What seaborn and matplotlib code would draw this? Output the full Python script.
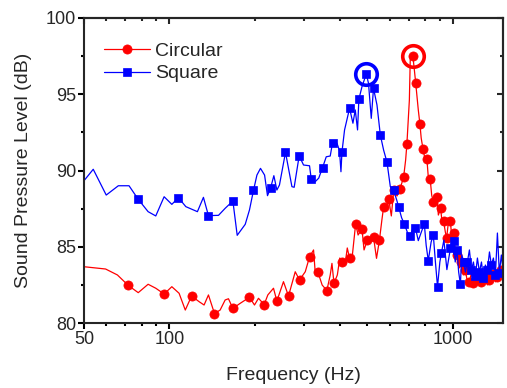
import numpy as np
import pandas as pd
import matplotlib
matplotlib.use("Agg")
import matplotlib.pyplot as plt
import seaborn as sns
from matplotlib.ticker import FixedLocator, NullFormatter, MultipleLocator

# Circular plate: frequency (Hz) and sound pressure level (dB)
circ_freq = [50, 59.6, 65.6, 71.7, 77.7, 84.2, 89.6, 95.9, 102.1, 108.3,
             113.9, 119.9, 127.4, 132.7, 137.5, 144.4, 151.2, 157.5, 161.8, 167.7,
             178.0, 191.9, 199.9, 206.5, 216.3, 222.8, 233.3, 239.8, 253.0, 263.6,
             278.4, 288.3, 302, 312.7, 323.1, 327.6, 334.8, 346.5, 360, 370,
             375.2, 381.5, 392, 400, 407, 418.5, 425, 433, 443, 455,
             464, 479, 487, 500, 512, 526, 539, 552, 563, 571,
             585, 595, 608, 620, 637, 652, 664, 672, 683, 690,
             704, 709, 724, 732, 741, 757, 767, 775, 787, 798,
             812, 820, 834, 844, 855, 868, 882, 891, 908, 920,
             930, 943, 953, 967, 983, 995, 1009, 1022, 1039, 1056,
             1073, 1092, 1110, 1128, 1147, 1166, 1185, 1204, 1224, 1244,
             1265, 1285, 1306, 1328, 1350, 1371, 1394, 1417, 1440, 1463,
             1487, 1507]
circ_spl = [83.69, 83.54, 83.15, 82.46, 81.99, 82.54, 82.28, 81.90, 82.38, 81.95,
            80.85, 81.77, 81.40, 81.18, 81.84, 80.62, 80.85, 81.51, 81.59, 80.96,
            81.29, 81.69, 81.18, 81.62, 81.21, 81.84, 82.28, 81.44, 82.71, 81.77,
            83.36, 82.82, 83.36, 84.33, 84.79, 83.28, 83.34, 82.49, 82.13, 83.15,
            83.91, 82.60, 83.15, 84.26, 83.97, 84.0, 84.92, 84.24, 84.46, 86.52,
            85.77, 86.16, 84.79, 85.42, 85.44, 85.64, 84.24, 85.44, 86.75, 87.61,
            87.41, 88.13, 87.02, 88.72, 88.33, 88.79, 89.25, 89.59, 90.69, 91.74,
            94.62, 97.25, 97.53, 96.72, 95.76, 93.97, 93.05, 92.13, 91.38, 90.82,
            90.73, 89.70, 89.41, 88.39, 87.93, 88.39, 88.23, 87.08, 87.51, 86.43,
            86.66, 85.97, 85.57, 86.62, 86.66, 85.44, 85.87, 84.92, 84.46, 83.61,
            84.0, 83.15, 83.48, 82.69, 82.7, 83.3, 82.6, 82.43, 82.9, 83.4,
            82.7, 83.1, 83.0, 82.5, 82.8, 83.4, 83.2, 82.7, 83.0, 83.6,
            83.5, 83.1]
circ_marks = [3, 7, 11, 15, 19, 21, 24, 27, 29, 31, 33, 36, 38, 41, 44, 47, 49,
              51, 53, 55, 57, 59, 61, 63, 65, 67, 69, 72, 74, 76, 78, 80, 82, 84,
              86, 88, 90, 92, 94, 96, 98, 100, 102, 104, 106, 108, 110, 112, 114,
              116, 118, 120]

# Square plate
sq_freq = [50, 53.9, 59.9, 66.1, 72.1, 77.7, 84.2, 89.6, 95.9, 102.1,
           107.7, 114.4, 125.7, 132.0, 137.5, 149.2, 157.5, 167.7, 173.7, 185.4,
           191.9, 198.3, 203.9, 209.9, 217, 222.2, 227.7, 234.0, 239.8, 244.9,
           257.2, 271.0, 276, 287.5, 297.8, 312.7, 317, 327.6, 337, 347.5,
           358.2, 370, 377, 391, 399, 403.7, 407, 415.7, 433, 445,
           453.5, 462, 467, 479, 496, 505, 516.5, 526, 541, 556,
           571, 587, 603, 619, 635, 645, 661, 676, 692, 709,
           724, 739, 757, 776, 795, 807, 821, 840, 855, 870,
           885, 902, 914, 932, 955, 983, 1009, 1022, 1037, 1051,
           1066, 1078, 1095, 1110, 1128, 1147, 1166, 1185, 1204, 1224,
           1244, 1265, 1285, 1306, 1328, 1350, 1371, 1394, 1417, 1440,
           1463, 1487, 1507]
sq_spl = [89.33, 90.08, 88.39, 89.0, 89.0, 88.11, 87.30, 87.02, 88.28, 87.78,
          88.22, 87.63, 87.30, 88.24, 87.04, 87.06, 87.52, 88.0, 85.75, 86.47,
          87.41, 88.70, 89.70, 90.14, 89.70, 88.35, 88.83, 89.66, 88.72, 89.05,
          91.19, 88.94, 88.90, 90.97, 90.36, 90.31, 89.46, 89.27, 89.5, 90.18,
          90.9, 90.95, 91.82, 91.78, 91.3, 89.92, 91.21, 92.66, 94.08, 93.10,
          93.97, 92.66, 94.67, 95.50, 96.33, 95.72, 93.42, 95.39, 94.30, 92.33,
          91.34, 90.54, 88.94, 88.72, 88.07, 87.63, 86.9, 86.49, 85.97, 85.70,
          86.2, 86.26, 85.4, 85.97, 86.49, 85.1, 84.09, 85.3, 85.8, 84.0,
          82.38, 84.0, 84.61, 85.44, 83.5, 84.90, 85.38, 84.0, 84.79, 83.34,
          82.54, 84.46, 84.02, 83.34, 84.0, 84.79, 83.48, 84.0, 83.08, 84.26,
          83.34, 84.0, 82.95, 83.8, 83.48, 84.66, 83.8, 84.26, 83.15, 85.9,
          83.28, 84.46, 83.5]
sq_marks = [5, 10, 14, 17, 21, 26, 30, 33, 36, 39, 42, 46, 48, 52, 54, 57, 59,
            61, 63, 65, 67, 69, 71, 74, 76, 78, 80, 82, 85, 86, 88, 90, 92, 94,
            96, 98, 100, 102, 104, 106, 108, 110]

x_major = [50, 100, 1000]
x_minor = [60, 70, 80, 90, 200, 300, 400, 500, 600, 700, 800, 900]

sns.set_style("ticks")
plt.rcParams['font.family'] = ['Liberation Sans', 'DejaVu Sans']

circ = pd.DataFrame({"freq": circ_freq, "spl": circ_spl})
sq = pd.DataFrame({"freq": sq_freq, "spl": sq_spl})

fig = plt.figure(figsize=(5.07, 3.88), dpi=100)
ax = fig.add_axes([84 / 507, 65 / 388, 419 / 507, 305 / 388])

sns.lineplot(data=circ, x="freq", y="spl", ax=ax, color="#ff0000",
             linewidth=0.9, marker="o", markersize=6.6,
             markeredgecolor="#ff0000", markeredgewidth=0.5,
             markevery=circ_marks, sort=False, estimator=None, label="Circular")
sns.lineplot(data=sq, x="freq", y="spl", ax=ax, color="#0000ff",
             linewidth=0.9, marker="s", markersize=6.0,
             markeredgecolor="#0000ff", markeredgewidth=0.5,
             markevery=sq_marks, sort=False, estimator=None, label="Square")

# rings around the resonance peaks
for df, col in [(sq, "#0000ff"), (circ, "#ff0000")]:
    pk = df.loc[df.spl.idxmax()]
    ax.plot([pk.freq], [pk.spl], marker="o", ms=15.5, mfc="none",
            mec=col, mew=2.6, ls="none")

ax.set_xscale("log")
ax.set_xlim(50, 1507)
ax.set_ylim(80, 100)
ax.set_xticks(x_major, labels=[str(v) for v in x_major])
ax.set_xticks(x_minor, minor=True)
ax.xaxis.set_minor_formatter(NullFormatter())
ax.yaxis.set_major_locator(MultipleLocator(5))
ax.yaxis.set_minor_locator(MultipleLocator(2.5))

for s in ax.spines.values():
    s.set_linewidth(1.5)
ax.tick_params(which="both", direction="out", width=1.5, labelsize=13,
               top=False, right=False, color="black")
ax.tick_params(which="major", length=4.5, pad=1)
ax.tick_params(which="minor", length=2.5)

top = ax.secondary_xaxis("top")
top.set_xticks(x_major)
top.set_xticks(x_minor, minor=True)
top.xaxis.set_major_formatter(NullFormatter())
top.xaxis.set_minor_formatter(NullFormatter())
top.tick_params(which="both", direction="in", width=1.5)
top.tick_params(which="major", length=4.5)
top.tick_params(which="minor", length=2.5)
top.spines["top"].set_linewidth(1.5)

right = ax.secondary_yaxis("right")
right.yaxis.set_major_locator(MultipleLocator(5))
right.yaxis.set_minor_locator(MultipleLocator(2.5))
right.yaxis.set_major_formatter(NullFormatter())
right.tick_params(which="both", direction="in", width=1.5)
right.tick_params(which="major", length=4.5)
right.tick_params(which="minor", length=2.5)
right.spines["right"].set_linewidth(1.5)

ax.set_xlabel("Frequency (Hz)", fontsize=14, labelpad=14)
ax.set_ylabel("Sound Pressure Level (dB)", fontsize=14, labelpad=10)

ax.legend(loc="upper left", bbox_to_anchor=(0.047, 0.92), frameon=False,
          fontsize=14, handlelength=2.4, handletextpad=0.25,
          labelspacing=0.25, borderaxespad=0, borderpad=0)

fig.savefig("out.png", dpi=100)
